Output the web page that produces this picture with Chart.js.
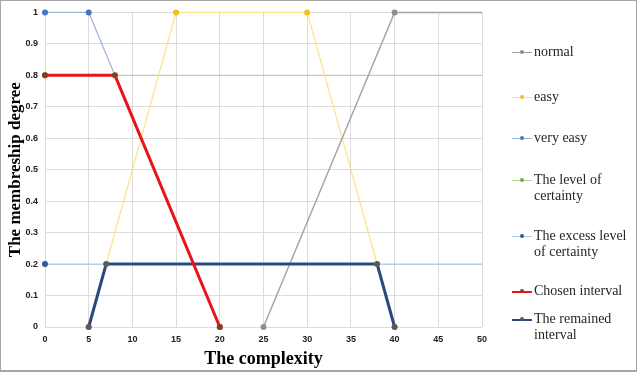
<!DOCTYPE html>
<html>
<head>
<meta charset="utf-8">
<script src="https://cdn.jsdelivr.net/npm/chart.js@4/dist/chart.umd.min.js"></script>
<style>
  body { margin: 0; background: #fff; }
  #wrap { position: relative; width: 637px; height: 372px; }
  #frame { position: absolute; left: 0; top: 0; width: 637px; height: 372px; box-sizing: border-box;
           border: 1px solid #a6a6a6; border-bottom-width: 2px; pointer-events: none; }
  .leg { position: absolute; left: 512px; font-family: "Liberation Serif", serif; font-size: 14px;
         color: #262626; line-height: 16px; }
  .leg .sw { position: absolute; left: 0; top: 8px; width: 20px; height: 0; }
  .leg .dot { position: absolute; left: 8px; top: 6px; width: 4px; height: 4px; border-radius: 50%; }
  .leg span { display: block; margin-left: 22px; width: 100px; }
</style>
</head>
<body>
<div id="wrap">
  <canvas id="chart" width="637" height="372"></canvas>
  <div id="legend"></div>
  <div id="frame"></div>
</div>
<script>
// values
const xTicks = [0, 5, 10, 15, 20, 25, 30, 35, 40, 45, 50];
const yTickLabels = ['0', '0.1', '0.2', '0.3', '0.4', '0.5', '0.6', '0.7', '0.8', '0.9', '1'];

const normalX = [25, 40, 50];
const normalY = [0, 1, 1];
const easyX = [5, 15, 30, 40];
const easyY = [0, 1, 1, 0];
const veryEasyX = [0, 5, 20];
const veryEasyY = [1, 1, 0];
const certaintyX = [0, 50];
const certaintyY = [0.8, 0.8];
const excessX = [0, 50];
const excessY = [0.2, 0.2];
const chosenX = [0, 8, 20];
const chosenY = [0.8, 0.8, 0];
const remainedX = [5, 7, 38, 40];
const remainedY = [0, 0.2, 0.2, 0];

function pts(xs, ys) {
  return xs.map((x, i) => ({ x: x, y: ys[i] }));
}

// no marker on the right edge (x = 50)
const hideEdge = ctx => (ctx.raw && ctx.raw.x === 50 ? 0 : 3);

const series = [
  { label: 'Chosen interval', data: pts(chosenX, chosenY), line: '#e8141a', dot: '#8c3b1e', width: 3, order: 0 },
  { label: 'The remained interval', data: pts(remainedX, remainedY), line: '#2a4a7f', dot: '#5a5a5a', width: 3, order: 1 },
  { label: 'normal', data: pts(normalX, normalY), line: '#a5a5a5', dot: '#8f8f8f', width: 1.5, order: 2 },
  { label: 'easy', data: pts(easyX, easyY), line: '#ffe08a', dot: '#f2c01e', width: 1.2, order: 3 },
  { label: 'very easy', data: pts(veryEasyX, veryEasyY), line: '#9fb4dc', dot: '#4a73c0', width: 1.2, order: 4 },
  { label: 'The level of certainty', data: pts(certaintyX, certaintyY), line: '#b5d69a', dot: '#70ad47', width: 1.2, order: 5 },
  { label: 'The excess level of certainty', data: pts(excessX, excessY), line: '#a9cdea', dot: '#2e5c9e', width: 1.2, order: 6 }
];

const datasets = series.map(s => ({
  label: s.label,
  data: s.data,
  showLine: true,
  clip: false,
  borderColor: s.line,
  borderWidth: s.width,
  backgroundColor: s.dot,
  pointBackgroundColor: s.dot,
  pointBorderColor: s.dot,
  pointRadius: hideEdge,
  pointBorderWidth: 0,
  order: s.order
}));

new Chart(document.getElementById('chart'), {
  type: 'scatter',
  data: { datasets: datasets },
  options: {
    responsive: false,
    animation: false,
    layout: { padding: { left: 0, top: 7, right: 155, bottom: 0 } },
    plugins: { legend: { display: false }, tooltip: { enabled: false } },
    scales: {
      x: {
        type: 'linear', min: 0, max: 50,
        afterBuildTicks: s => { s.ticks = xTicks.map(v => ({ value: v })); },
        afterFit: s => { s.height = 45; },
        grid: { color: '#dcdcdc', drawTicks: false },
        border: { display: false },
        ticks: { padding: 7, color: '#222', font: { family: 'Liberation Sans', size: 9, weight: 'bold' } },
        title: { display: true, text: 'The complexity', color: '#000', padding: { top: 0, bottom: 2 },
                 font: { family: 'Liberation Serif', size: 18, weight: 'bold' } }
      },
      y: {
        min: 0, max: 1,
        afterBuildTicks: s => { s.ticks = yTickLabels.map((t, i) => ({ value: i / 10 })); },
        afterFit: s => { s.width = 45; },
        grid: { color: '#dcdcdc', drawTicks: false },
        border: { display: false },
        ticks: { padding: 7, color: '#222', callback: (v, i) => yTickLabels[i],
                 font: { family: 'Liberation Sans', size: 9, weight: 'bold' } },
        title: { display: true, text: 'The membreship degree', color: '#000', padding: { top: 5, bottom: 0 },
                 font: { family: 'Liberation Serif', size: 17, weight: 'bold' } }
      }
    }
  }
});

// legend on the right, like the original
const legendItems = [
  { s: 2, top: 44 },
  { s: 3, top: 89 },
  { s: 4, top: 130 },
  { s: 5, top: 172 },
  { s: 6, top: 228 },
  { s: 0, top: 283 },
  { s: 1, top: 311 }
];
const legend = document.getElementById('legend');
legendItems.forEach(item => {
  const s = series[item.s];
  const div = document.createElement('div');
  div.className = 'leg';
  div.style.top = item.top + 'px';
  const thick = s.width > 2 ? 2 : 1;
  div.innerHTML = '<div class="sw" style="border-top:' + thick + 'px solid ' + s.line + '"></div>' +
    '<div class="dot" style="background:' + s.dot + '"></div><span>' + s.label + '</span>';
  legend.appendChild(div);
});
</script>
</body>
</html>
